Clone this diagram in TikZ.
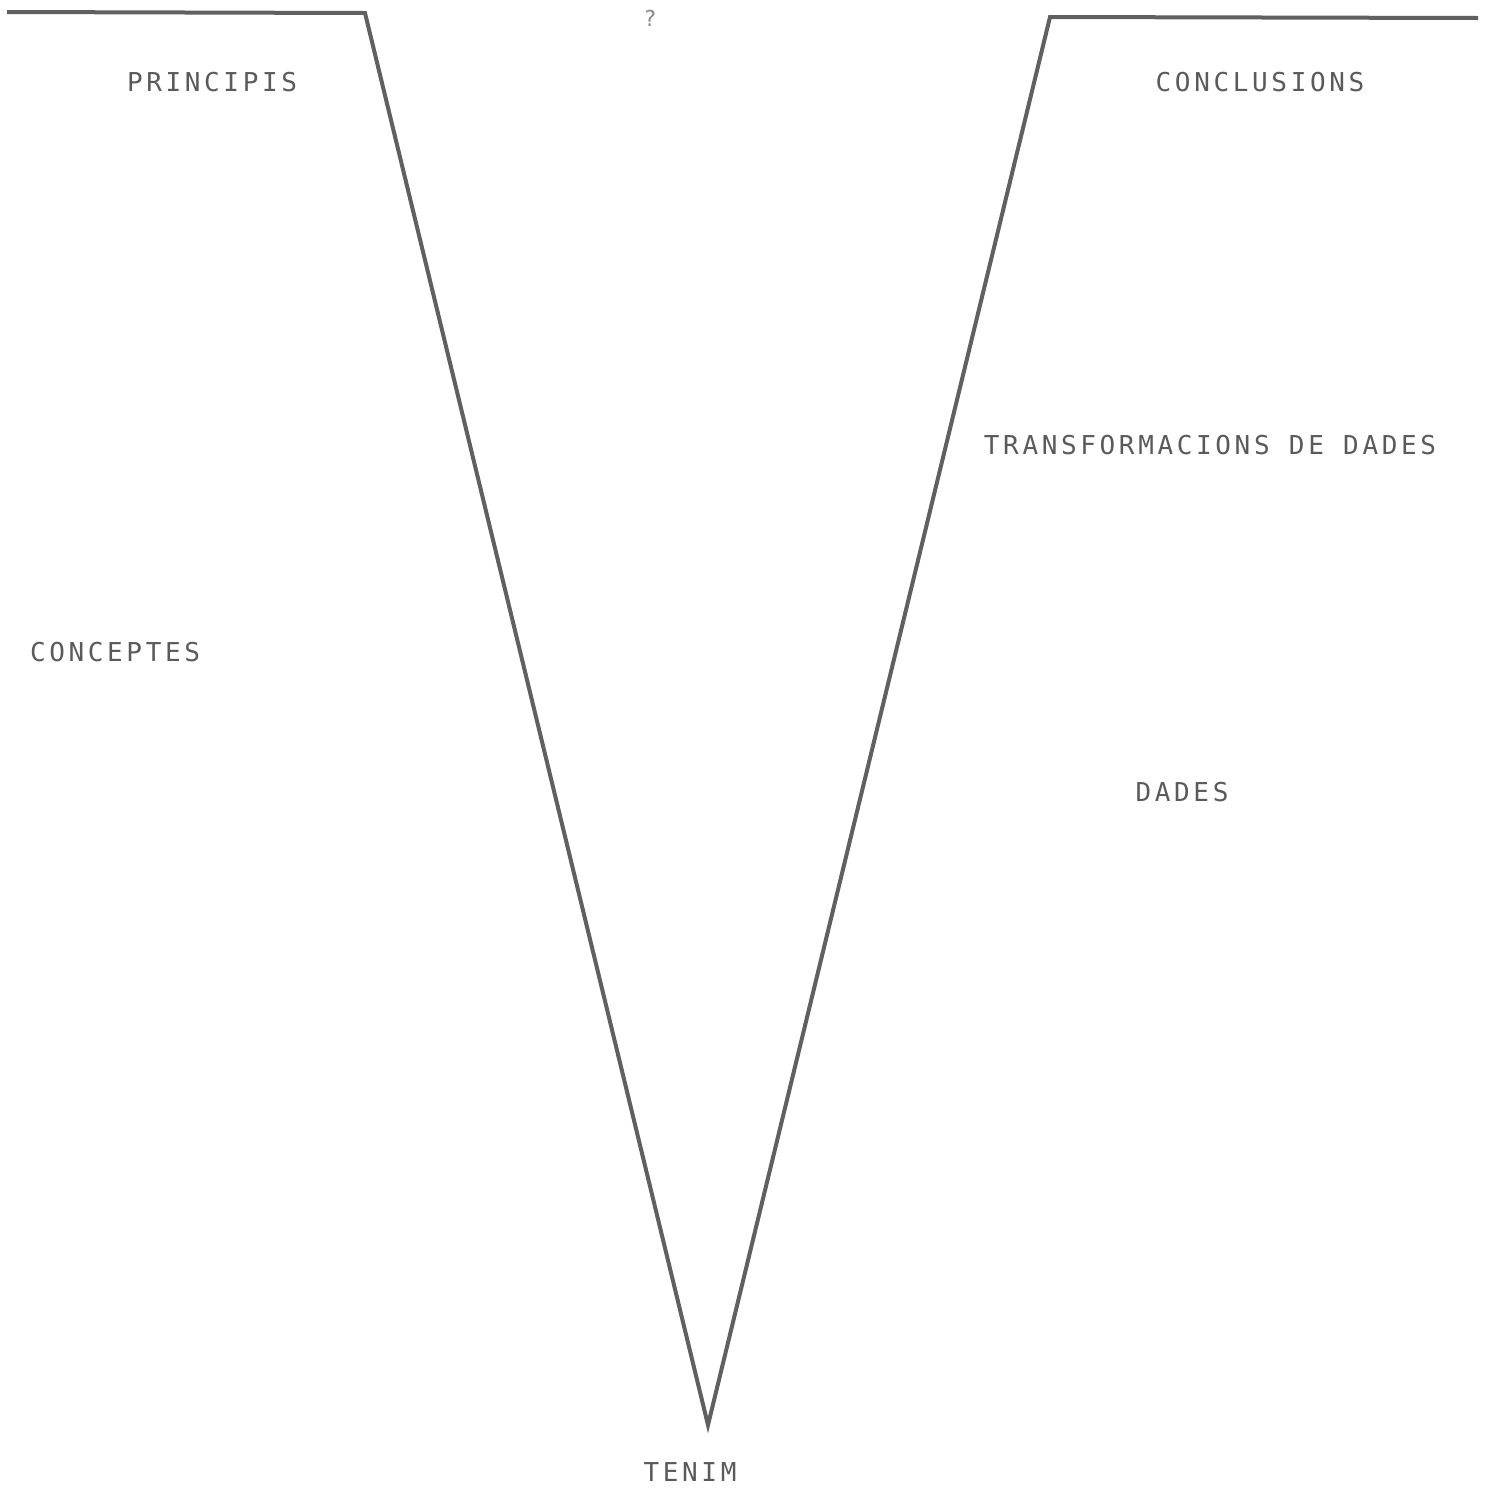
\documentclass[tikz,border=0pt]{standalone}
\usepackage{fontspec}
\newfontfamily\vmono[LetterSpace=14]{DejaVu Sans Mono}
\definecolor{vline}{HTML}{606060}
\definecolor{vtext}{HTML}{5A5A5A}
\begin{document}
\begin{tikzpicture}[x=1pt,y=-1pt,
  lbl/.style={text=vtext,font=\vmono\fontsize{26}{30}\selectfont,inner sep=0pt,anchor=center},
  vstroke/.style={draw=vline,line width=4pt,line join=miter}]
\useasboundingbox (0,0) rectangle (1494,1492);
\coordinate (tl) at (7,12);
\coordinate (lc) at (365,13);
\coordinate (bot) at (708,1425);
\coordinate (rc) at (1050,17);
\coordinate (tr) at (1478,18);
\draw[vstroke] (tl) -- (lc) -- (bot) -- (rc) -- (tr);
\node[lbl,text=vtext!70,font=\vmono\fontsize{22}{26}\selectfont] (q) at (650,18) {?};
\node[lbl] (princ) at (212,82) {PRINCIPIS};
\node[lbl] (concl) at (1260,82) {CONCLUSIONS};
\node[lbl] (transf) at (1210,445) {TRANSFORMACIONS DE DADES};
\node[lbl] (conc) at (115,652) {CONCEPTES};
\node[lbl] (dades) at (1182,792) {DADES};
\node[lbl] (tenim) at (690,1472) {TENIM};
\end{tikzpicture}
\end{document}
